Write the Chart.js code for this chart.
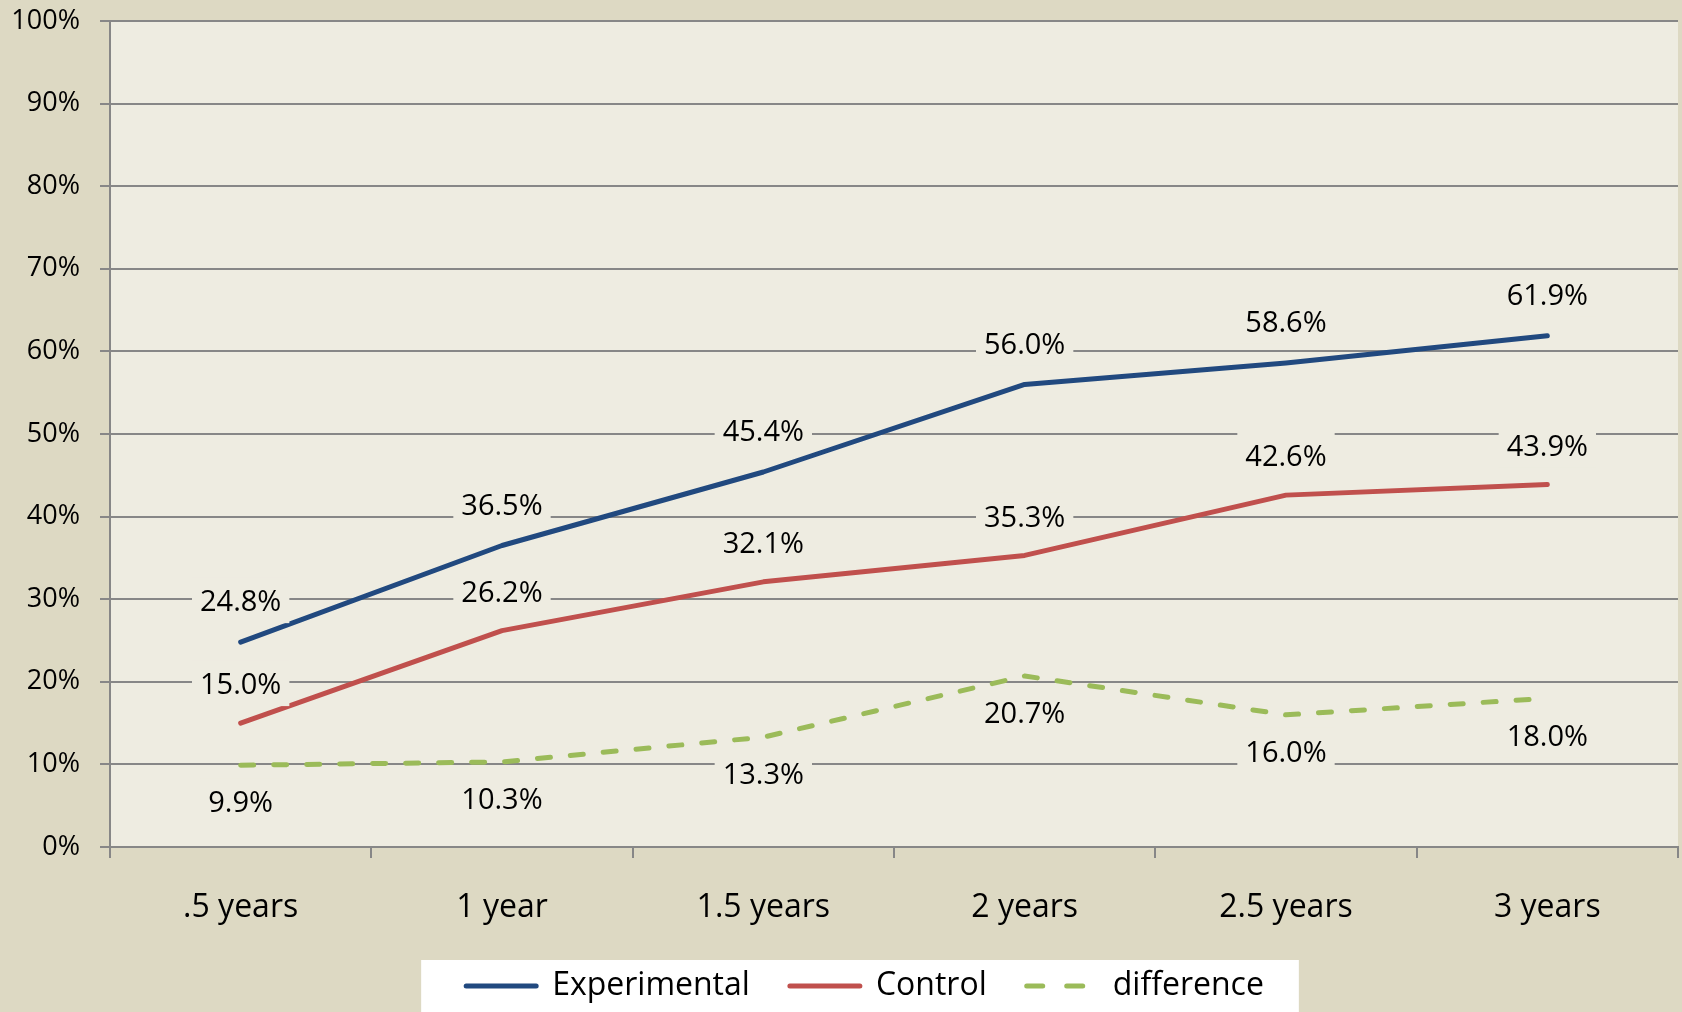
<!DOCTYPE html>
<html>
<head>
<meta charset="utf-8">
<script src="https://cdn.jsdelivr.net/npm/chart.js@4.4.0/dist/chart.umd.min.js"></script>
<style>
html, body { margin: 0; padding: 0; background: #DDD9C3; }
</style>
</head>
<body>
<canvas id="retentionChart" width="1682" height="1012"></canvas>
<script>
var periods = ['.5 years', '1 year', '1.5 years', '2 years', '2.5 years', '3 years'];
var experimental = [24.8, 36.5, 45.4, 56.0, 58.6, 61.9];
var control = [15.0, 26.2, 32.1, 35.3, 42.6, 43.9];
var difference = [9.9, 10.3, 13.3, 20.7, 16.0, 18.0];

var plotColor = '#EEECE1';
var gridColor = '#878787';

Chart.defaults.font.family = "'Open Sans', sans-serif";
Chart.defaults.color = '#000';

// tan page, light plot area and the white strip behind the legend
var backgroundPlugin = {
    id: 'backgrounds',
    afterLayout: function(chart) {
        // the legend sits a little right of centre in the original
        var lg = chart.legend;
        lg.left += 26;
        lg.right += 26;
        (lg.legendHitBoxes || []).forEach(function(b) { b.left += 26; });
    },
    beforeDraw: function(chart) {
        var ctx = chart.ctx, a = chart.chartArea;
        ctx.save();
        ctx.fillStyle = '#DDD9C3';
        ctx.fillRect(0, 0, chart.width, chart.height);
        ctx.fillStyle = plotColor;
        ctx.fillRect(a.left, a.top, a.right - a.left, a.bottom - a.top);
        var boxes = chart.legend.legendHitBoxes;
        if (boxes && boxes.length) {
            var first = boxes[0], last = boxes[boxes.length - 1];
            var x0 = first.left - 45, x1 = last.left + last.width + 35;
            var y0 = first.top - 10;
            ctx.fillStyle = '#fff';
            ctx.fillRect(x0, y0, x1 - x0, chart.height - y0);
        }
        ctx.restore();
    }
};

// value labels with an opaque box, like the Excel data labels
var valueLabelPlugin = {
    id: 'valueLabels',
    afterDatasetsDraw: function(chart) {
        var ctx = chart.ctx;
        ctx.save();
        ctx.font = "29px 'Open Sans'";
        ctx.textAlign = 'center';
        ctx.textBaseline = 'middle';
        chart.data.datasets.forEach(function(ds, i) {
            var meta = chart.getDatasetMeta(i);
            meta.data.forEach(function(pt, j) {
                var text = ds.data[j].toFixed(1) + '%';
                var x = pt.x, y = pt.y + ds.labelOffset;
                var w = ctx.measureText(text).width;
                ctx.fillStyle = plotColor;
                ctx.fillRect(x - w / 2 - 8, y - 26, w + 16, 46);
                ctx.fillStyle = '#000';
                ctx.fillText(text, x, y);
            });
        });
        ctx.restore();
    }
};

var ctx = document.getElementById('retentionChart');
var retentionChart = new Chart(ctx, {
    type: 'line',
    data: {
        labels: periods,
        datasets: [
            {
                label: 'Experimental',
                data: experimental,
                borderColor: '#21497F',
                backgroundColor: '#21497F',
                borderWidth: 5,
                borderCapStyle: 'round',
                borderJoinStyle: 'round',
                pointRadius: 0,
                labelOffset: -39
            },
            {
                label: 'Control',
                data: control,
                borderColor: '#C0504D',
                backgroundColor: '#C0504D',
                borderWidth: 5,
                borderCapStyle: 'round',
                borderJoinStyle: 'round',
                pointRadius: 0,
                labelOffset: -37
            },
            {
                label: 'difference',
                data: difference,
                borderColor: '#9BBB59',
                backgroundColor: '#9BBB59',
                borderWidth: 5,
                borderDash: [13, 20],
                borderCapStyle: 'round',
                borderJoinStyle: 'round',
                pointRadius: 0,
                labelOffset: 39
            }
        ]
    },
    options: {
        responsive: false,
        animation: false,
        layout: { padding: { top: 21, right: 4, left: 0, bottom: 0 } },
        plugins: {
            tooltip: { enabled: false },
            legend: {
                position: 'bottom',
                labels: {
                    usePointStyle: true,
                    pointStyle: 'line',
                    pointStyleWidth: 70,
                    boxHeight: 10,
                    padding: 40,
                    font: { size: 32 },
                    generateLabels: function(chart) {
                        return chart.data.datasets.map(function(ds, i) {
                            return {
                                text: ds.label,
                                datasetIndex: i,
                                strokeStyle: ds.borderColor,
                                fillStyle: ds.borderColor,
                                lineWidth: 5,
                                lineCap: 'round',
                                lineDash: ds.borderDash ? [16, 24] : [],
                                pointStyle: 'line',
                                hidden: false
                            };
                        });
                    }
                }
            }
        },
        scales: {
            x: {
                offset: true,
                afterFit: function(scale) { scale.height = 83; },
                grid: { offset: true, drawOnChartArea: false, color: gridColor, lineWidth: 2, tickLength: 11 },
                border: { color: gridColor, width: 2 },
                ticks: { font: { size: 32 }, padding: 31 }
            },
            y: {
                min: 0,
                max: 100,
                afterFit: function(scale) {
                    scale.width = 110;
                    scale.paddingTop = 0;
                    scale.paddingBottom = 0;
                },
                grid: { color: gridColor, lineWidth: 2, tickLength: 10 },
                border: { color: gridColor, width: 2 },
                ticks: {
                    stepSize: 10,
                    font: { size: 27 },
                    padding: 20,
                    callback: function(v) { return v + '%'; }
                }
            }
        }
    },
    plugins: [backgroundPlugin, valueLabelPlugin]
});
</script>
</body>
</html>
